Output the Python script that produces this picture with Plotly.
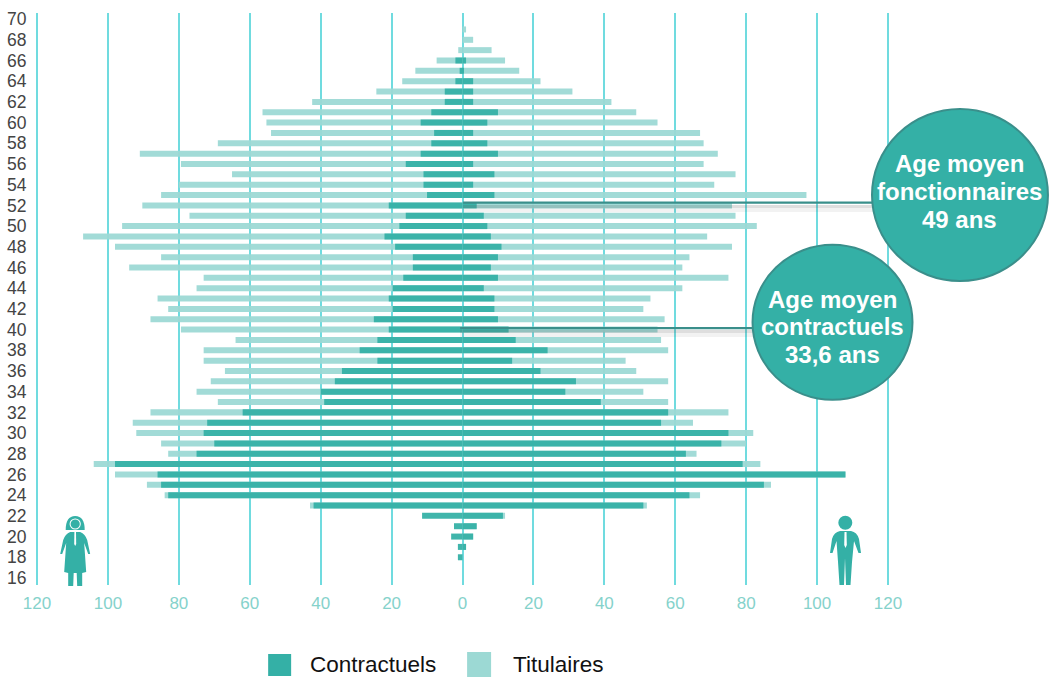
import re
import plotly.graph_objects as go

ages = list(range(69, 17, -1))
# Left side (women), age 69 down to 18
women_titulaires = [0, 0, 1.2, 7.3, 13.3, 17, 24.3, 42.4, 56.4, 55.3, 54, 69, 91, 79.4, 65, 80, 85, 90.3,
                    77, 96, 107, 98, 85, 94, 73, 75, 86, 83, 88, 79.4, 64, 73, 73, 67, 71, 75, 69,
                    88, 93, 92, 85, 83, 104, 98, 89, 84, 43, 0, 0, 0, 0, 0]
women_contractuels = [0, 0, 0, 2, 0.8, 2, 5, 5, 8.8, 11.8, 8, 8.8, 11.8, 16, 11, 11, 10, 20.8,
                      16, 17.8, 22, 19, 14, 14, 16.7, 19.7, 20.8, 19.7, 25, 20.8, 24, 29, 24, 34, 36, 40, 39,
                      62, 72, 73, 70, 75, 98, 86, 85, 83, 42, 11.4, 2.4, 3.2, 1.3, 1.3]
# Right side (men)
men_titulaires = [1, 3, 8.2, 12, 16, 22, 31, 42, 49, 55, 67, 68, 72, 68, 77, 71, 97, 76,
                  77, 83, 69, 76, 64, 62, 75, 62, 53, 51, 57, 55, 56, 58, 46, 49, 58, 51, 58,
                  75, 65, 82, 80, 66, 84, 108, 87, 67, 52, 12, 4, 3, 1, 0]
men_contractuels = [0, 0, 0, 1, 0.3, 3, 3, 3, 10, 7, 3, 7, 10, 3, 9, 3, 9, 4,
                    6, 7, 8, 11, 10, 8, 10, 6, 9, 9, 10, 13, 15, 24, 14, 22, 32, 29, 39,
                    58, 56, 75, 73, 63, 79, 108, 85, 64, 51, 11.4, 4, 3, 1, 0]
age_ticks = list(range(16, 71, 2))
x_ticks = list(range(-120, 121, 20))
x_labels = [str(abs(v)) for v in x_ticks]
legend_names = ["Contractuels", "Titulaires"]

DARK = "#34B0A6"
LIGHT = "#9CD9D4"
GRID = "#70DBDF"
RIM = "#3A8F8B"
W, H = 1049, 677
L, R, T, B = 36.8, 161, 13, 92


def px(x):
    return (x - L) / (W - L - R)


def py(y):
    return 1 - (y - T) / (H - T - B)


def path(d):
    def rep(m):
        return f"{px(float(m.group(1))):.5f},{py(float(m.group(2))):.5f}"
    return re.sub(r"(-?[\d.]+),(-?[\d.]+)", rep, d)


def circle(cx, cy, r, fill, line=None, lw=0, ry=None):
    ry = ry or r
    return dict(type="circle", xref="paper", yref="paper", x0=px(cx - r), x1=px(cx + r),
                y0=py(cy + ry), y1=py(cy - ry), fillcolor=fill,
                line=dict(color=line or fill, width=lw))


def rect(x0, y0, x1, y1, fill):
    return dict(type="rect", xref="paper", yref="paper", x0=px(x0), x1=px(x1), y0=py(y1), y1=py(y0),
                fillcolor=fill, line=dict(width=0))


def freeform(d, fill):
    return dict(type="path", xref="paper", yref="paper", path=path(d), fillcolor=fill, line=dict(width=0))


fig = go.Figure()
for vals, col, side in [(women_titulaires, LIGHT, -1), (men_titulaires, LIGHT, 1),
                        (women_contractuels, DARK, -1), (men_contractuels, DARK, 1)]:
    fig.add_trace(go.Bar(y=ages, x=[side * v for v in vals], orientation="h", width=0.58,
                         marker=dict(color=col, opacity=0.94, line=dict(width=0)), showlegend=False))

edge_lines = [dict(type="line", xref="paper", yref="paper", x0=e, x1=e, y0=0, y1=1, layer="below",
                   line=dict(color=GRID, width=2)) for e in (0, 1)]

shapes = edge_lines + [
    # soft shadows and leader lines
    rect(463, 205, 880, 208, "rgba(90,90,90,0.20)"),
    rect(463, 208, 880, 212, "rgba(90,90,90,0.08)"),
    rect(460, 330, 760, 333, "rgba(90,90,90,0.20)"),
    rect(460, 333, 760, 337, "rgba(90,90,90,0.08)"),
    rect(463, 201.6, 880, 203.8, RIM),
    rect(460, 327, 760, 329.2, RIM),
    circle(960, 195, 88, DARK, RIM, 2, ry=86),
    circle(832.5, 322.3, 80, DARK, RIM, 2, ry=77.5),
    # woman
    freeform("M65.5,530 Q65.5,516 75,516 Q84.5,516 84.5,530 Z", DARK),
    circle(75, 524, 5.6, "white"),
    circle(75, 524, 4.6, DARK),
    freeform("M70,532 Q65,534 63,540 L60,554 L62,554 L66,543 L64,572 L68,573 L68,586 L73,586 L73.5,573 "
             "L76.5,573 L77,586 L82,586 L82,573 L86,572 L84,543 L88,554 L90,554 L87,540 Q85,534 80,532 Z", DARK),
    freeform("M74.2,532 L75.8,532 L76,544 L75,546 L74,544 Z", "white"),
    # man
    circle(845.3, 522.7, 7, DARK),
    freeform("M840,531 Q834,532 832,539 L830,553 L832.5,553 L836.5,541 L838,562 L839.5,585 L844,585 L845,558 "
             "L846,585 L850.5,585 L852,562 L854,541 L858.5,553 L861,553 L859,539 Q857,532 851,531 Z", DARK),
    freeform("M844.5,532 L846.5,532 L846.8,545 L845.5,548 L844.2,545 Z", "white"),
    # legend keys
    rect(268, 654, 291, 676, DARK),
    rect(467, 652, 491, 677, LIGHT),
]

annotations = []
for cx, cys, lines in [(960, (163, 191, 219), ("Age moyen", "fonctionnaires", "49 ans")),
                       (832.5, (299, 326, 354), ("Age moyen", "contractuels", "33,6 ans"))]:
    for cy, txt in zip(cys, lines):
        annotations.append(dict(xref="paper", yref="paper", x=px(cx), y=py(cy), text=txt, showarrow=False,
                                font=dict(family="Liberation Sans", size=24, color="white", weight="bold"),
                                align="center", xanchor="center", yanchor="middle"))
for x0, txt in [(309, legend_names[0]), (512, legend_names[1])]:
    annotations.append(dict(xref="paper", yref="paper", x=px(x0), y=py(664.5), text=txt, showarrow=False,
                            font=dict(family="Liberation Sans", size=22.5, color="#111111"),
                            xanchor="left", yanchor="middle", xshift=-1))

fig.update_layout(
    width=W, height=H, margin=dict(l=L, r=R, t=T, b=B, pad=0, autoexpand=False),
    paper_bgcolor="white", plot_bgcolor="white",
    barmode="overlay", showlegend=False, shapes=shapes, annotations=annotations,
    xaxis=dict(range=[-120, 120], tickvals=x_ticks, ticktext=x_labels, showgrid=True, gridcolor=GRID, gridwidth=2,
               zeroline=False, showline=False, ticks="outside", ticklen=3, tickcolor="rgba(0,0,0,0)", automargin=False,
               tickfont=dict(family="Liberation Sans", size=17, color="#85D2CB")),
    yaxis=dict(range=[15.32, 70.59], tickvals=age_ticks, showgrid=False, zeroline=False, showline=False,
               ticks="outside", ticklen=6, tickcolor="rgba(0,0,0,0)", automargin=False,
               tickfont=dict(family="Liberation Sans", size=17.5, color="#444444")),
)
fig.write_html("out.html", config=dict(displayModeBar=False),
               post_script="document.body.style.margin='0';document.body.style.overflow='hidden';")
